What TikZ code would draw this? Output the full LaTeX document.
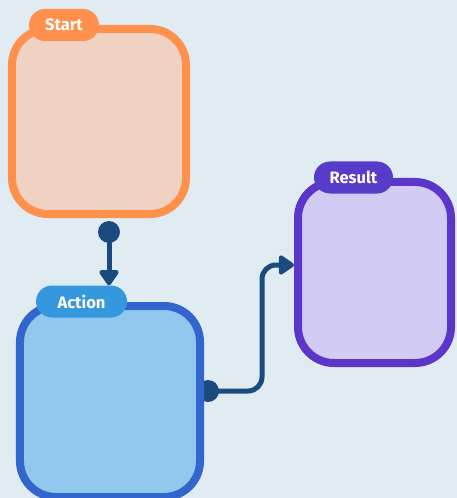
\documentclass[tikz,border=0pt]{standalone}
\usepackage{fontspec}
\setsansfont{Fira Sans}
\usepackage{tikz}
\usetikzlibrary{positioning, arrows.meta}

\definecolor{bgcol}{HTML}{E0ECF2}
\definecolor{startline}{HTML}{FF914D}
\definecolor{startfill}{HTML}{EFD2C2}
\definecolor{actionline}{HTML}{3366CC}
\definecolor{actionfill}{HTML}{92C8EE}
\definecolor{actiontag}{HTML}{3598DE}
\definecolor{resultline}{HTML}{5C35C9}
\definecolor{resultfill}{HTML}{D2CBF3}
\definecolor{resulttag}{HTML}{573BC9}
\definecolor{conncol}{HTML}{1B4A7F}

\begin{document}
\begin{tikzpicture}[x=1bp, y=-1bp,
        stage/.style={draw, line width=8bp, rounded corners=36bp, inner sep=0pt},
        tag/.style={rounded corners=16bp, minimum height=32bp, inner sep=0pt,
            text=white, font=\sffamily\bfseries\fontsize{16.5bp}{19bp}\selectfont},
        dot/.style={circle, fill=conncol, minimum size=22bp, inner sep=0pt},
        conn/.style={draw=conncol, line width=5bp, -{Triangle[length=17bp, width=22bp, round]}}]
            \fill [bgcol] (0,0) rectangle (457,498);
            \useasboundingbox (0,0) rectangle (457,498);

            % dots first so the boxes cover them
            \node [dot] (startdot) at (109,232) {};
            \node [dot] (actiondot) at (208,391) {};

            \node [stage, draw=startline, fill=startfill, minimum width=174bp, minimum height=185bp]
                (startbox) at (99,121.5) {};
            \node [stage, draw=actionline, fill=actionfill, minimum width=180bp, minimum height=191bp]
                (actionbox) at (110,401.5) {};
            \node [stage, draw=resultline, fill=resultfill, minimum width=153bp, minimum height=181bp]
                (resultbox) at (374.5,272.5) {};

            \node [tag, fill=startline, minimum width=70bp] (starttag) at (64,25) {Start};
            \node [tag, fill=actiontag, minimum width=91bp] (actiontag) at (81.5,301.5) {Action};
            \node [tag, fill=resulttag, minimum width=79bp] (resulttag) at (353.5,177.5) {Result};

            \coordinate (bend) at (262,391);

            \draw [conn]
                (startdot.center) -- (startdot.center |- actiontag.north);
            \draw [conn, rounded corners=14bp]
                (actiondot.center) -- (bend) |- ([yshift=7.5bp]resultbox.west);
        \end{tikzpicture}
\end{document}
